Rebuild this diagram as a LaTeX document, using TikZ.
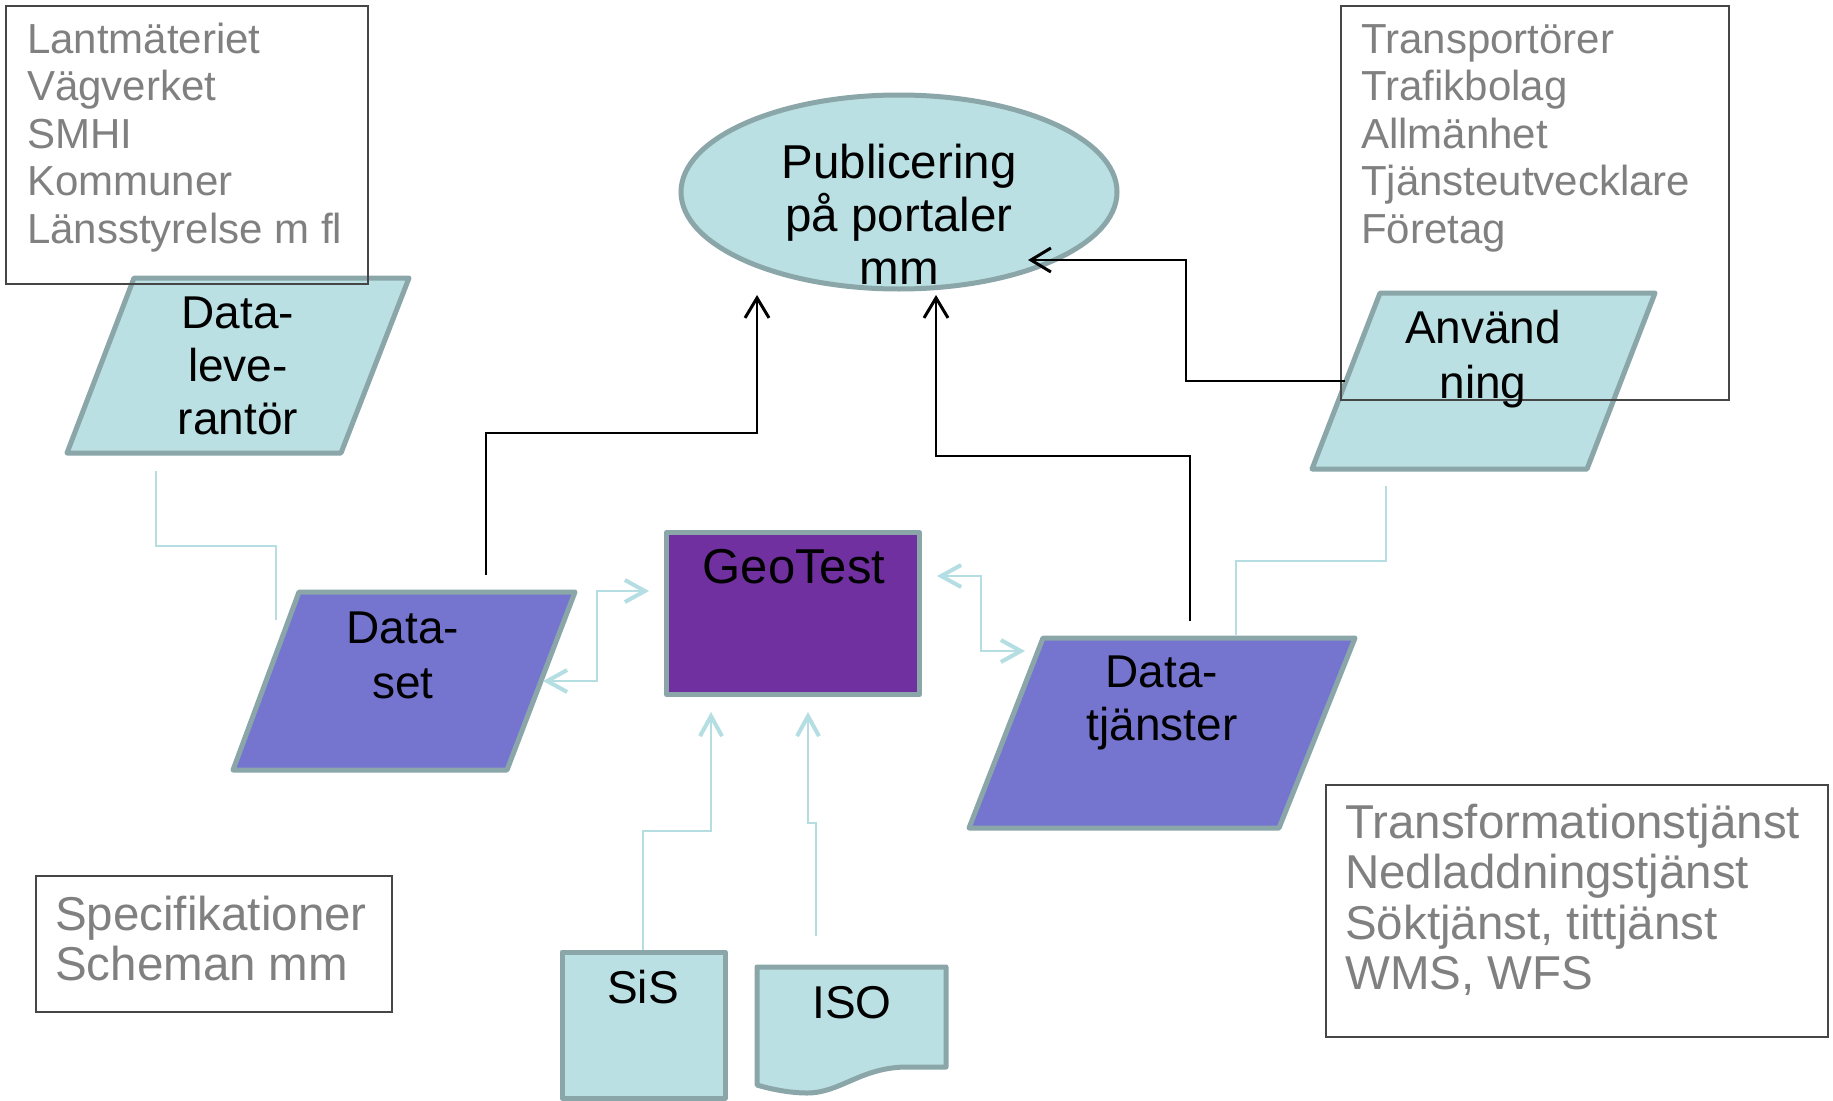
\documentclass[tikz,border=0pt]{standalone}
\usepackage{fontspec}
\setmainfont{Liberation Sans}
\usetikzlibrary{arrows.meta,shapes.geometric,calc}
\definecolor{tealfill}{RGB}{187,224,227}
\definecolor{shapeborder}{RGB}{138,166,168}
\definecolor{bluefill}{RGB}{117,117,207}
\definecolor{geofill}{RGB}{112,48,160}
\definecolor{txtgray}{RGB}{128,128,128}
\definecolor{boxline}{RGB}{70,70,70}
\definecolor{tealline}{RGB}{180,222,226}
\newcommand{\ascr}[1]{\rule{0pt}{#1}}
\tikzset{
  shapeline/.style={draw=shapeborder, line width=5pt, line join=round},
  lightshape/.style={shapeline, fill=tealfill},
  blueshape/.style={shapeline, fill=bluefill},
  infobox/.style={draw=boxline, line width=1.4pt},
  smalltext/.style={text=txtgray, align=left, inner sep=0pt, anchor=north west, font=\fontsize{42}{47.5}\selectfont},
  graytext/.style={text=txtgray, align=left, inner sep=0pt, anchor=north west, font=\fontsize{47.5}{50.5}\selectfont},
  bigtext/.style={font=\fontsize{46}{53}\selectfont, inner sep=0pt, align=center, anchor=north},
  pubfont/.style={bigtext, font=\fontsize{47.5}{53}\selectfont},
  widetext/.style={bigtext, font=\fontsize{46}{55}\selectfont},
  onetext/.style={font=\fontsize{46}{53}\selectfont, inner sep=0pt, anchor=base},
  blackarrow/.style={draw=black, line width=2pt, -{Straight Barb[length=20pt,width=24pt,line width=3pt 0]}},
  tealconn/.style={draw=tealline, line width=2pt},
  tealarrow/.style={tealconn, -{Straight Barb[length=20pt,width=22pt,line width=4pt 0]}},
  tealboth/.style={tealconn, {Straight Barb[length=20pt,width=22pt,line width=4pt 0]}-{Straight Barb[length=20pt,width=22pt,line width=4pt 0]}},
}
\begin{document}
\begin{tikzpicture}[x=1pt,y=-1pt]
\useasboundingbox[fill=white] (0,0) rectangle (1833,1100);

% shapes
\draw[lightshape] (134,278) -- (409,278) -- (341,453) -- (67,453) -- cycle;
\node[lightshape, ellipse, minimum width=436pt, minimum height=194pt, inner sep=0pt] (pub) at (899,192) {};
\draw[lightshape] (1380,293) -- (1655,293) -- (1587,469) -- (1312,469) -- cycle;
\draw[blueshape] (299,592) -- (575,592) -- (507,770) -- (233,770) -- cycle;
\draw[shapeline, fill=geofill] (666.5,532.5) rectangle (919.5,694.5);
\draw[blueshape] (1043,638) -- (1355,638) -- (1279,828) -- (969,828) -- cycle;
\draw[lightshape] (562,952) rectangle (725,1098);
\draw[lightshape] (757,967) -- (946,967) -- (946,1067) -- (905,1067)
  .. controls (860,1068) and (840,1093) .. (807,1093)
  .. controls (790,1093) and (770,1089) .. (757,1085) -- cycle;

% info boxes
\draw[infobox] (6,6) rectangle (368,284);
\draw[infobox] (1341,6) rectangle (1729,400);
\draw[infobox] (36,876) rectangle (392,1012);
\draw[infobox] (1326,785) rectangle (1828,1037);

% texts
\node[smalltext] (suppliers) at (27,19) {\ascr{34pt}Lantmäteriet\\Vägverket\\SMHI\\Kommuner\\Länsstyrelse m fl};
\node[smalltext] (users) at (1361,19) {\ascr{34pt}Transportörer\\Trafikbolag\\Allmänhet\\Tjänsteutvecklare\\Företag};
\node[graytext] (specs) at (55,894) {\ascr{36pt}Specifikationer\\Scheman mm};
\node[graytext] (services) at (1345,802) {\ascr{36pt}Transformationstjänst\\Nedladdningstjänst\\Söktjänst, tittjänst\\WMS, WFS};

\node[bigtext] (dl) at (238,292) {\ascr{36pt}Data-\\leve-\\rantör};
\node[pubfont] (pubtext) at (899,142) {\ascr{36pt}Publicering\\på portaler\\mm};
\node[widetext] (anv) at (1483,307) {\ascr{36pt}Använd\\ning};
\node[widetext] (ds) at (403,607) {\ascr{36pt}Data-\\set};
\node[onetext, font=\fontsize{49}{53}\selectfont] (geo) at (794,583) {GeoTest};
\node[bigtext] (dt) at (1162,651) {\ascr{36pt}Data-\\tjänster};
\node[onetext] (sis) at (643,1003) {SiS};
\node[onetext] (iso) at (852,1018) {ISO};

% connector endpoints
\coordinate (pubL) at (757,295);
\coordinate (pubM) at (936,295);
\coordinate (pubR) at (1028,260);
\coordinate (dsTop) at (486,575);
\coordinate (dtTop) at (1190,621);
\coordinate (anvL) at (1345,381);
\coordinate (dlBot) at (156,471);
\coordinate (dsIn) at (276,620);
\coordinate (dsR) at (543,681);
\coordinate (geoL) at (649,591);
\coordinate (geoR) at (937,576);
\coordinate (dtL) at (1025,651);
\coordinate (anvBot) at (1386,486);
\coordinate (dtIn) at (1236,635);
\coordinate (sisTop) at (643,950);
\coordinate (geoB1) at (711,712);
\coordinate (isoTop) at (816,936);
\coordinate (geoB2) at (808,712);

% black connectors
\draw[blackarrow] (dsTop) -- ++(0,-142) -| (pubL);
\draw[blackarrow] (dtTop) -- ++(0,-165) -| (pubM);
\draw[blackarrow] (anvL) -- ++(-159,0) |- (pubR);

% teal connectors
\draw[tealconn] (dlBot) -- ++(0,75) -| (dsIn);
\draw[tealboth] (dsR) -- ++(54,0) |- (geoL);
\draw[tealboth] (geoR) -- ++(44,0) |- (dtL);
\draw[tealconn] (anvBot) -- ++(0,75) -| (dtIn);
\draw[tealarrow] (sisTop) -- ++(0,-119) -| (geoB1);
\draw[tealarrow] (isoTop) -- ++(0,-113) -| (geoB2);
\end{tikzpicture}
\end{document}
